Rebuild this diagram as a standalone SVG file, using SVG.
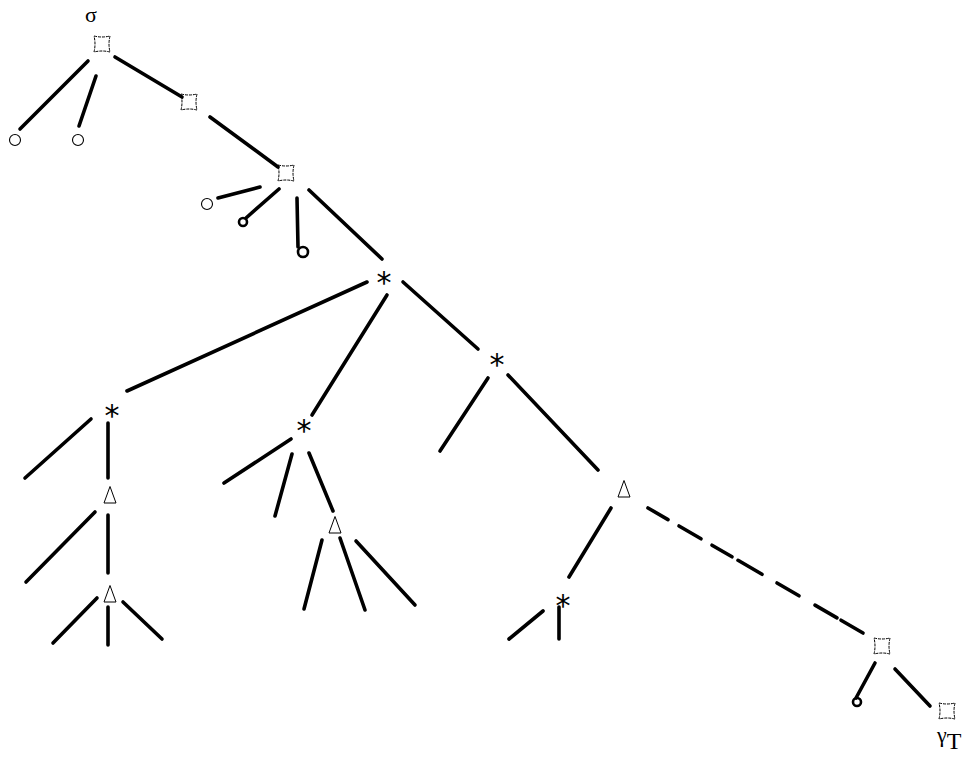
<svg xmlns="http://www.w3.org/2000/svg" xmlns:xlink="http://www.w3.org/1999/xlink" width="976" height="765" viewBox="0 0 976 765">
<style>
.e{stroke:#000;stroke-width:3.6;stroke-linecap:round;fill:none}
.sq{fill:none;stroke:#000;stroke-width:1;stroke-dasharray:3 1}
.lf{fill:none;stroke:#000;stroke-width:1.1}
.lk{fill:none;stroke:#000;stroke-width:2.6}
.tr{fill:none;stroke:#000;stroke-width:1}
.st{font-family:"DejaVu Sans",sans-serif;font-size:30px;text-anchor:middle;fill:#000}
.lb{font-family:"Liberation Serif",serif;font-size:22px;fill:#000}
</style>
<defs>
<path id="sq" class="sq" d="M-8,-8 Q0,-6 8,-8 Q6,0 8,8 Q0,6 -8,8 Q-6,0 -8,-8 Z"/>
<path id="tri" class="tr" d="M0,-8.5 L6,8 L-6,8 Z"/>
</defs>
<rect width="976" height="765" fill="#fff"/>
<g id="connectors">
<line class="e" x1="88" y1="61" x2="20" y2="129"/>
<line class="e" x1="96" y1="76" x2="79" y2="126"/>
<line class="e" x1="115" y1="57" x2="182" y2="97"/>
<line class="e" x1="210" y1="117" x2="278" y2="167"/>
<line class="e" x1="260" y1="187" x2="218" y2="198"/>
<line class="e" x1="279" y1="189" x2="246" y2="218"/>
<line class="e" x1="297" y1="198" x2="298" y2="247"/>
<line class="e" x1="309" y1="190" x2="382" y2="259"/>
<line class="e" x1="367" y1="282" x2="127" y2="391"/>
<line class="e" x1="387" y1="295" x2="312" y2="415"/>
<line class="e" x1="403" y1="282" x2="478" y2="349"/>
<line class="e" x1="488" y1="378" x2="440" y2="451"/>
<line class="e" x1="508" y1="375" x2="598" y2="470"/>
<line class="e" x1="611" y1="508" x2="569" y2="577"/>
<line class="e" x1="543" y1="611" x2="509" y2="639"/>
<line class="e" x1="559" y1="607" x2="559" y2="639"/>
<line class="e" x1="91" y1="419" x2="25" y2="478"/>
<line class="e" x1="108" y1="423" x2="108" y2="478"/>
<line class="e" x1="95" y1="512" x2="26" y2="582"/>
<line class="e" x1="108" y1="515" x2="108" y2="573"/>
<line class="e" x1="97" y1="598" x2="53" y2="643"/>
<line class="e" x1="108" y1="607" x2="108" y2="645"/>
<line class="e" x1="123" y1="602" x2="162" y2="639"/>
<line class="e" x1="291" y1="439" x2="224" y2="483"/>
<line class="e" x1="292" y1="454" x2="275" y2="516"/>
<line class="e" x1="309" y1="453" x2="333" y2="511"/>
<line class="e" x1="322" y1="540" x2="304" y2="609"/>
<line class="e" x1="340" y1="538" x2="365" y2="610"/>
<line class="e" x1="356" y1="541" x2="415" y2="605"/>
<g id="dashed">
<line class="e" x1="648" y1="508" x2="668" y2="519.6"/>
<line class="e" x1="679" y1="526" x2="701" y2="538.8"/>
<line class="e" x1="712" y1="545.2" x2="732" y2="556.8"/>
<line class="e" x1="738" y1="560.3" x2="762" y2="574.3"/>
<line class="e" x1="777" y1="583" x2="799" y2="595.8"/>
<line class="e" x1="815" y1="605.1" x2="837" y2="617.9"/>
<line class="e" x1="841" y1="620.2" x2="863" y2="633"/>
</g>
<line class="e" x1="875" y1="663" x2="856" y2="698"/>
<line class="e" x1="895" y1="669" x2="930" y2="706"/>
</g>
<g id="n-root"><text class="lb" x="91" y="22" text-anchor="middle">σ</text><use href="#sq" x="102" y="44"/></g>
<g id="n-leaf1"><circle class="lf" cx="15" cy="140" r="5.5"/></g>
<g id="n-leaf2"><circle class="lf" cx="78" cy="140" r="5.5"/></g>
<g id="n-sq2"><use href="#sq" x="189" y="102"/></g>
<g id="n-sq3"><use href="#sq" x="286" y="173"/></g>
<g id="n-leaf3"><circle class="lf" cx="207" cy="204" r="5.5"/></g>
<g id="n-leaf4"><circle class="lk" cx="243" cy="222" r="4"/></g>
<g id="n-leaf5"><circle class="lk" cx="303" cy="252" r="5"/></g>
<g id="n-star1"><text class="st" x="384" y="293">*</text></g>
<g id="n-star2"><text class="st" x="497" y="375">*</text></g>
<g id="n-star3"><text class="st" x="112" y="426">*</text></g>
<g id="n-star4"><text class="st" x="304" y="441">*</text></g>
<g id="n-star5"><text class="st" x="563" y="616">*</text></g>
<g id="n-tri1"><use href="#tri" x="110" y="495"/></g>
<g id="n-tri2"><use href="#tri" x="110" y="594"/></g>
<g id="n-tri3"><use href="#tri" x="335" y="525"/></g>
<g id="n-tri4"><use href="#tri" x="624" y="489"/></g>
<g id="n-sq4"><use href="#sq" x="882" y="646"/></g>
<g id="n-leaf6"><circle class="lk" cx="857" cy="702" r="4"/></g>
<g id="n-sq5"><use href="#sq" x="947" y="711"/><text class="lb" x="937" y="742">γ<tspan font-size="24" dy="7">T</tspan></text></g>
</svg>
